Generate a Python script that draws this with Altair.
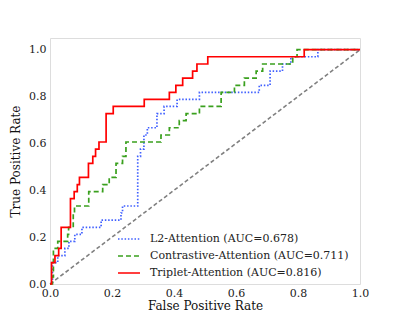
import altair as alt
import pandas as pd

# Values
series_names = ["L2-Attention (AUC=0.678)",
                "Contrastive-Attention (AUC=0.711)",
                "Triplet-Attention (AUC=0.816)"]

l2_fpr = [0, 0.008, 0.025, 0.048, 0.061, 0.08, 0.103, 0.165, 0.229, 0.234, 0.283, 0.292,
          0.303, 0.314, 0.345, 0.368, 0.41, 0.482, 0.675, 0.71, 0.75, 0.777, 0.864, 1.0]
l2_tpr = [0, 0.091, 0.121, 0.152, 0.182, 0.212, 0.242, 0.273, 0.303, 0.333, 0.545, 0.576,
          0.636, 0.667, 0.727, 0.758, 0.788, 0.818, 0.848, 0.909, 0.939, 0.970, 1.0, 1.0]

con_fpr = [0, 0.008, 0.011, 0.025, 0.057, 0.06, 0.075, 0.079, 0.125, 0.17, 0.191, 0.213,
           0.234, 0.245, 0.358, 0.385, 0.417, 0.439, 0.482, 0.552, 0.595, 0.627, 0.665,
           0.686, 0.783, 0.797, 1.0]
con_tpr = [0, 0.030, 0.152, 0.182, 0.212, 0.242, 0.303, 0.333, 0.394, 0.424, 0.455, 0.515,
           0.545, 0.606, 0.636, 0.667, 0.697, 0.727, 0.758, 0.818, 0.848, 0.879, 0.909,
           0.939, 0.970, 1.0, 1.0]

tri_fpr = [0, 0.005, 0.016, 0.028, 0.036, 0.066, 0.078, 0.088, 0.095, 0.124, 0.138, 0.147,
           0.158, 0.181, 0.204, 0.304, 0.385, 0.406, 0.428, 0.46, 0.474, 0.509, 0.82, 1.0]
tri_tpr = [0, 0.091, 0.121, 0.152, 0.242, 0.364, 0.394, 0.424, 0.455, 0.515, 0.545, 0.576,
           0.606, 0.727, 0.758, 0.788, 0.818, 0.848, 0.879, 0.909, 0.939, 0.970, 1.0, 1.0]

diag_vals = [0.0, 1.0]

x_ticks = [0.0, 0.2, 0.4, 0.6, 0.8, 1.0]
y_ticks = [0.0, 0.2, 0.4, 0.6, 0.8, 1.0]

colors = ["#3f5fff", "#3aa01e", "#ff0000"]
dashes = [[1.5, 1.8], [5, 3], [1, 0]]
widths = [1.7, 1.7, 2.0]

rows = []
for name, fx, ty in zip(series_names, [l2_fpr, con_fpr, tri_fpr], [l2_tpr, con_tpr, tri_tpr]):
    for i, (a, b) in enumerate(zip(fx, ty)):
        rows.append({"model": name, "fpr": a, "tpr": b, "i": i})
df = pd.DataFrame(rows)
diag = pd.DataFrame({"fpr": diag_vals, "tpr": diag_vals})

FONT = "DejaVu Serif"

xs = alt.Scale(domain=[0, 1], nice=False, zero=False)
ys = alt.Scale(domain=[0, 1.05], nice=False, zero=False)

xaxis = alt.Axis(values=x_ticks, format=".1f", title="False Positive Rate", grid=False,
                 domain=False, ticks=False, labelPadding=3, labelFont=FONT, labelFontSize=11,
                 labelColor="#222", titleFont=FONT, titleFontSize=12, titleFontWeight="normal",
                 titleColor="#111", titleY=21, titleBaseline="middle", labelFlush=False)
yaxis = alt.Axis(values=y_ticks, format=".1f", title="True Positive Rate", grid=False,
                 domain=False, ticks=False, labelPadding=4, labelFont=FONT, labelFontSize=11,
                 labelColor="#222", titleFont=FONT, titleFontSize=12, titleFontWeight="normal",
                 titleColor="#111", titlePadding=6, labelFlush=False)

diag_layer = alt.Chart(diag).mark_line(color="#808080", strokeDash=[4, 2.5], strokeWidth=1.6).encode(
    x=alt.X("fpr:Q", scale=xs, axis=xaxis),
    y=alt.Y("tpr:Q", scale=ys, axis=yaxis),
)

legend = alt.Legend(title=None, orient="none", legendX=67, legendY=189, symbolType="stroke",
                    symbolSize=484, labelFont=FONT, labelFontSize=11, labelColor="#222",
                    labelOffset=9, rowPadding=0, padding=0, symbolStrokeWidth=2,
                    labelLimit=400)

lines = alt.Chart(df).mark_line(interpolate="step-after").encode(
    x=alt.X("fpr:Q", scale=xs, axis=xaxis),
    y=alt.Y("tpr:Q", scale=ys, axis=yaxis),
    color=alt.Color("model:N", scale=alt.Scale(domain=series_names, range=colors), legend=legend),
    strokeDash=alt.StrokeDash("model:N", scale=alt.Scale(domain=series_names, range=dashes), legend=legend),
    strokeWidth=alt.StrokeWidth("model:N", scale=alt.Scale(domain=series_names, range=widths), legend=None),
    order="i:Q",
)

chart = alt.layer(diag_layer, lines).properties(
    width=310, height=246,
    padding={"left": 42, "top": 30, "right": 28, "bottom": 27},
    autosize=alt.AutoSizeParams(type="none"),
).configure_view(stroke="#555555", strokeWidth=1.2).configure(background="white")

chart.save("out.html", embed_options={"renderer": "svg", "actions": False})
